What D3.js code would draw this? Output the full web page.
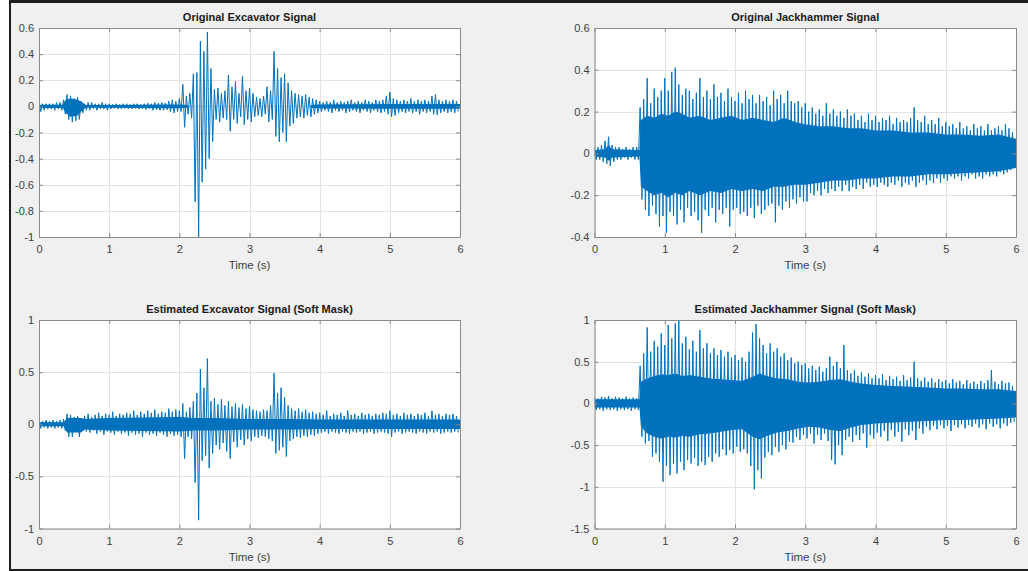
<!DOCTYPE html>
<html><head><meta charset="utf-8">
<script src="https://cdn.jsdelivr.net/npm/d3@7"></script>
<style>
body{margin:0;background:#fff;}
svg{display:block;}
text{font-family:"Liberation Sans",Arial,Helvetica,sans-serif;}
</style>
</head><body>
<svg id="chart" width="1028" height="571"></svg>
<script>
// ---------- DATA ----------
// waveform envelopes: one max and one min value per 0.05 s block
const blockStart = 0, blockStep = 0.05;

const excavatorOrigHi = [
 0.03,0.02,0.02,0.02,0.02,0.03,0.03,0.05,0.09,0.08,0.06,0.07,0.04,0.02,0.03,0.03,0.02,0.02,0.03,0.02,
 0.02,0.015,0.02,0.015,0.02,0.02,0.015,0.02,0.02,0.015,0.02,0.025,0.02,0.03,0.025,0.03,0.025,0.04,0.05,0.04,
 0.06,0.17,0.08,0.10,0.25,0.26,0.50,0.42,0.57,0.29,0.13,0.14,0.10,0.12,0.24,0.15,0.19,0.10,0.23,0.12,
 0.14,0.10,0.07,0.06,0.08,0.15,0.12,0.42,0.29,0.22,0.25,0.18,0.12,0.10,0.09,0.08,0.09,0.07,0.06,0.05,
 0.04,0.03,0.04,0.03,0.05,0.03,0.04,0.03,0.04,0.05,0.03,0.04,0.03,0.05,0.04,0.03,0.05,0.04,0.05,0.08,
 0.11,0.06,0.05,0.04,0.05,0.04,0.06,0.04,0.05,0.04,0.05,0.04,0.08,0.09,0.05,0.04,0.05,0.04,0.05,0.04];
const excavatorOrigLo = [
 -0.04,-0.03,-0.02,-0.02,-0.03,-0.02,-0.03,-0.06,-0.10,-0.12,-0.11,-0.10,-0.05,-0.03,-0.03,-0.02,-0.03,-0.02,-0.02,-0.03,
 -0.02,-0.015,-0.02,-0.02,-0.015,-0.02,-0.02,-0.015,-0.02,-0.02,-0.025,-0.02,-0.03,-0.025,-0.03,-0.03,-0.025,-0.04,-0.05,-0.04,
 -0.04,-0.16,-0.06,-0.09,-0.73,-1.00,-0.58,-0.48,-0.40,-0.27,-0.10,-0.12,-0.09,-0.10,-0.19,-0.10,-0.13,-0.08,-0.14,-0.10,
 -0.12,-0.08,-0.07,-0.08,-0.06,-0.12,-0.10,-0.23,-0.27,-0.20,-0.27,-0.15,-0.13,-0.09,-0.08,-0.09,-0.07,-0.08,-0.06,-0.05,
 -0.04,-0.03,-0.04,-0.05,-0.03,-0.04,-0.03,-0.05,-0.04,-0.03,-0.04,-0.05,-0.03,-0.04,-0.05,-0.03,-0.04,-0.05,-0.04,-0.06,
 -0.08,-0.07,-0.05,-0.04,-0.05,-0.04,-0.05,-0.04,-0.06,-0.04,-0.05,-0.04,-0.06,-0.065,-0.05,-0.04,-0.05,-0.04,-0.05,-0.04];

const jackhammerOrigHi = [
 0.03,0.03,0.04,0.06,0.08,0.04,0.03,0.03,0.02,0.03,0.02,0.03,0.03,0.22,0.26,0.36,0.24,0.31,0.27,0.30,
 0.36,0.30,0.39,0.41,0.33,0.28,0.31,0.30,0.26,0.29,0.36,0.27,0.30,0.26,0.33,0.27,0.29,0.25,0.31,0.27,
 0.25,0.29,0.24,0.30,0.26,0.28,0.24,0.28,0.25,0.27,0.23,0.30,0.26,0.28,0.24,0.30,0.25,0.24,0.25,0.22,
 0.24,0.20,0.22,0.19,0.21,0.18,0.24,0.19,0.21,0.18,0.20,0.17,0.21,0.18,0.19,0.16,0.18,0.15,0.19,0.16,
 0.18,0.15,0.17,0.16,0.18,0.14,0.17,0.15,0.16,0.15,0.17,0.22,0.16,0.15,0.18,0.14,0.16,0.14,0.17,0.13,
 0.15,0.13,0.14,0.12,0.15,0.12,0.13,0.11,0.14,0.12,0.13,0.11,0.14,0.11,0.12,0.13,0.11,0.14,0.12,0.10];
const jackhammerOrigLo = [
 -0.03,-0.03,-0.04,-0.05,-0.06,-0.04,-0.03,-0.03,-0.02,-0.03,-0.02,-0.03,-0.03,-0.22,-0.27,-0.30,-0.25,-0.29,-0.35,-0.30,
 -0.38,-0.28,-0.30,-0.34,-0.27,-0.33,-0.26,-0.30,-0.28,-0.32,-0.38,-0.27,-0.30,-0.26,-0.33,-0.27,-0.29,-0.26,-0.35,-0.27,
 -0.26,-0.29,-0.28,-0.30,-0.26,-0.31,-0.25,-0.29,-0.27,-0.25,-0.24,-0.33,-0.25,-0.27,-0.23,-0.26,-0.22,-0.24,-0.21,-0.23,
 -0.23,-0.19,-0.20,-0.18,-0.20,-0.17,-0.19,-0.17,-0.18,-0.16,-0.18,-0.15,-0.18,-0.16,-0.17,-0.15,-0.17,-0.14,-0.16,-0.15,
 -0.16,-0.14,-0.15,-0.16,-0.14,-0.15,-0.13,-0.16,-0.14,-0.15,-0.13,-0.16,-0.14,-0.13,-0.15,-0.13,-0.14,-0.12,-0.14,-0.12,
 -0.13,-0.11,-0.12,-0.11,-0.13,-0.11,-0.12,-0.10,-0.12,-0.11,-0.12,-0.10,-0.11,-0.10,-0.11,-0.09,-0.10,-0.09,-0.08,-0.07];

const excavatorEstHi = [
 0.04,0.03,0.04,0.03,0.04,0.03,0.04,0.05,0.10,0.09,0.07,0.08,0.06,0.08,0.10,0.07,0.09,0.11,0.08,0.10,
 0.09,0.12,0.08,0.10,0.09,0.11,0.10,0.13,0.09,0.12,0.10,0.13,0.11,0.14,0.10,0.12,0.11,0.15,0.12,0.14,
 0.13,0.20,0.12,0.16,0.22,0.30,0.53,0.35,0.63,0.22,0.25,0.19,0.24,0.18,0.22,0.17,0.20,0.16,0.19,0.15,
 0.17,0.14,0.13,0.12,0.14,0.13,0.18,0.49,0.30,0.35,0.26,0.18,0.15,0.13,0.15,0.12,0.14,0.11,0.12,0.10,
 0.11,0.09,0.13,0.08,0.10,0.09,0.11,0.08,0.13,0.09,0.10,0.08,0.11,0.09,0.10,0.08,0.10,0.09,0.11,0.10,
 0.13,0.09,0.10,0.08,0.11,0.09,0.10,0.08,0.10,0.09,0.11,0.08,0.13,0.09,0.10,0.08,0.10,0.09,0.10,0.08];
const excavatorEstLo = [
 -0.04,-0.03,-0.04,-0.03,-0.04,-0.03,-0.04,-0.06,-0.12,-0.12,-0.06,-0.12,-0.06,-0.07,-0.08,-0.06,-0.09,-0.07,-0.10,-0.07,
 -0.08,-0.10,-0.07,-0.09,-0.08,-0.11,-0.08,-0.10,-0.09,-0.12,-0.08,-0.10,-0.09,-0.11,-0.08,-0.10,-0.12,-0.09,-0.11,-0.10,
 -0.12,-0.33,-0.12,-0.14,-0.56,-0.92,-0.35,-0.30,-0.42,-0.28,-0.20,-0.24,-0.18,-0.26,-0.33,-0.17,-0.22,-0.15,-0.20,-0.14,
 -0.16,-0.12,-0.13,-0.11,-0.12,-0.14,-0.16,-0.28,-0.25,-0.22,-0.31,-0.16,-0.14,-0.12,-0.13,-0.11,-0.12,-0.10,-0.11,-0.09,
 -0.08,-0.07,-0.09,-0.07,-0.08,-0.09,-0.07,-0.08,-0.09,-0.07,-0.08,-0.07,-0.09,-0.08,-0.07,-0.09,-0.08,-0.07,-0.08,-0.09,
 -0.12,-0.08,-0.07,-0.09,-0.08,-0.07,-0.08,-0.09,-0.07,-0.08,-0.09,-0.07,-0.08,-0.07,-0.09,-0.08,-0.07,-0.08,-0.07,-0.08];

const jackhammerEstHi = [
 0.07,0.06,0.08,0.07,0.09,0.06,0.08,0.07,0.06,0.08,0.06,0.07,0.06,0.45,0.60,0.91,0.62,0.75,0.68,0.84,
 0.70,0.94,0.78,0.96,0.99,0.72,0.80,0.65,0.75,0.62,0.88,0.66,0.72,0.60,0.66,0.58,0.64,0.56,0.62,0.55,
 0.58,0.52,0.55,0.50,0.62,0.85,0.95,0.78,0.70,0.60,0.72,0.62,0.66,0.56,0.60,0.52,0.55,0.48,0.50,0.46,
 0.48,0.42,0.45,0.40,0.44,0.38,0.42,0.56,0.45,0.50,0.42,0.70,0.40,0.36,0.40,0.33,0.37,0.32,0.36,0.30,
 0.34,0.30,0.35,0.28,0.33,0.29,0.32,0.27,0.34,0.28,0.31,0.50,0.30,0.27,0.31,0.26,0.30,0.25,0.29,0.26,
 0.28,0.24,0.29,0.25,0.27,0.23,0.28,0.24,0.26,0.23,0.27,0.24,0.28,0.40,0.26,0.23,0.27,0.24,0.25,0.21];
const jackhammerEstLo = [
 -0.08,-0.07,-0.09,-0.07,-0.08,-0.07,-0.09,-0.07,-0.08,-0.07,-0.09,-0.07,-0.08,-0.40,-0.48,-0.45,-0.64,-0.60,-0.70,-0.94,
 -0.75,-0.86,-0.72,-0.84,-0.70,-0.80,-0.68,-0.72,-0.65,-0.75,-0.70,-0.74,-0.64,-0.70,-0.60,-0.64,-0.55,-0.62,-0.56,-0.60,
 -0.52,-0.58,-0.55,-0.60,-0.75,-1.03,-0.80,-0.90,-0.65,-0.58,-0.62,-0.52,-0.58,-0.50,-0.55,-0.46,-0.47,-0.40,-0.44,-0.38,
 -0.42,-0.36,-0.48,-0.38,-0.44,-0.36,-0.45,-0.68,-0.73,-0.50,-0.62,-0.44,-0.40,-0.46,-0.38,-0.44,-0.36,-0.53,-0.38,-0.42,
 -0.35,-0.40,-0.33,-0.45,-0.32,-0.40,-0.34,-0.46,-0.31,-0.38,-0.33,-0.44,-0.30,-0.36,-0.28,-0.32,-0.27,-0.31,-0.26,-0.30,
 -0.27,-0.33,-0.26,-0.29,-0.25,-0.30,-0.26,-0.28,-0.24,-0.29,-0.25,-0.31,-0.24,-0.28,-0.25,-0.30,-0.24,-0.27,-0.23,-0.22];

// dense solid core of each signal (where the trace fills solidly)
const excavatorOrigCoreT  = [0, 0.34, 0.38, 0.45, 0.55, 0.62, 0.66, 1.0, 1.5, 1.9, 2.1, 2.15, 3.85, 3.9, 4.0, 5.0, 6.0];
const excavatorOrigCoreHi = [0.012,0.012,0.05,0.06,0.05,0.03,0.01,0.01,0.012,0.015,0.012,0,0,0.012,0.015,0.018,0.018];
const excavatorOrigCoreLo = [-0.012,-0.012,-0.05,-0.08,-0.07,-0.03,-0.01,-0.01,-0.012,-0.015,-0.012,0,0,-0.012,-0.015,-0.018,-0.018];

const jackhammerOrigCoreT  = [0,0.15,0.2,0.25,0.64,0.66,0.75,0.85,0.95,1.05,1.15,1.25,1.35,1.5,1.65,1.8,1.95,2.1,2.25,2.4,2.55,2.7,2.85,3.0,3.2,3.4,3.6,3.8,4.0,4.25,4.5,4.75,5.0,5.25,5.5,5.75,6.0];
const jackhammerOrigCoreHi = [0.015,0.02,0.04,0.02,0.015,0.16,0.18,0.17,0.19,0.18,0.20,0.19,0.17,0.18,0.16,0.17,0.18,0.16,0.17,0.16,0.15,0.17,0.15,0.14,0.13,0.13,0.12,0.12,0.11,0.11,0.10,0.10,0.09,0.09,0.085,0.09,0.07];
const jackhammerOrigCoreLo = [-0.015,-0.02,-0.035,-0.02,-0.015,-0.16,-0.18,-0.20,-0.19,-0.21,-0.19,-0.20,-0.18,-0.20,-0.18,-0.19,-0.17,-0.18,-0.17,-0.18,-0.16,-0.16,-0.15,-0.15,-0.14,-0.13,-0.13,-0.12,-0.12,-0.11,-0.11,-0.10,-0.10,-0.095,-0.09,-0.085,-0.07];

const excavatorEstCoreT  = [0, 0.35, 0.4, 0.6, 0.65, 1.0, 2.0, 2.2, 2.5, 3.0, 3.6, 4.0, 6.0];
const excavatorEstCoreHi = [0.02,0.02,0.06,0.06,0.05,0.06,0.07,0.06,0.06,0.05,0.05,0.045,0.045];
const excavatorEstCoreLo = [-0.02,-0.02,-0.08,-0.08,-0.05,-0.06,-0.07,-0.06,-0.06,-0.05,-0.05,-0.045,-0.045];

const jackhammerEstCoreT  = [0,0.64,0.66,0.75,0.85,0.95,1.05,1.15,1.25,1.35,1.5,1.65,1.8,1.95,2.1,2.25,2.35,2.45,2.6,2.75,2.9,3.05,3.2,3.35,3.5,3.65,3.8,4.0,4.25,4.5,4.75,5.0,5.25,5.5,5.75,6.0];
const jackhammerEstCoreHi = [0.05,0.05,0.26,0.30,0.33,0.35,0.34,0.36,0.33,0.34,0.32,0.30,0.29,0.28,0.27,0.32,0.36,0.33,0.30,0.29,0.26,0.25,0.26,0.28,0.29,0.26,0.24,0.22,0.21,0.20,0.19,0.18,0.18,0.17,0.17,0.15];
const jackhammerEstCoreLo = [-0.05,-0.05,-0.28,-0.36,-0.40,-0.42,-0.40,-0.41,-0.39,-0.40,-0.37,-0.36,-0.34,-0.32,-0.31,-0.40,-0.43,-0.39,-0.35,-0.33,-0.30,-0.28,-0.29,-0.32,-0.33,-0.29,-0.26,-0.24,-0.23,-0.22,-0.21,-0.20,-0.20,-0.19,-0.18,-0.17];

// axes ticks
const timeTicks = [0, 1, 2, 3, 4, 5, 6];
const ticksOrigExc = [-1, -0.8, -0.6, -0.4, -0.2, 0, 0.2, 0.4, 0.6];
const ticksOrigJack = [-0.4, -0.2, 0, 0.2, 0.4, 0.6];
const ticksEstExc = [-1, -0.5, 0, 0.5, 1];
const ticksEstJack = [-1.5, -1, -0.5, 0, 0.5, 1];

const titles = ["Original Excavator Signal", "Original Jackhammer Signal",
                "Estimated Excavator Signal (Soft Mask)", "Estimated Jackhammer Signal (Soft Mask)"];
const xLabel = "Time (s)";

// ---------- LAYOUT ----------
const panels = [
  {title: titles[0], left: 39,    right: 460,  top: 28,  bottom: 237,   yDom: [-1, 0.6],   yTicks: ticksOrigExc,  hi: excavatorOrigHi,  lo: excavatorOrigLo,
   coreT: excavatorOrigCoreT, coreHi: excavatorOrigCoreHi, coreLo: excavatorOrigCoreLo},
  {title: titles[1], left: 594.5, right: 1016, top: 28,  bottom: 237,   yDom: [-0.4, 0.6], yTicks: ticksOrigJack, hi: jackhammerOrigHi, lo: jackhammerOrigLo,
   coreT: jackhammerOrigCoreT, coreHi: jackhammerOrigCoreHi, coreLo: jackhammerOrigCoreLo},
  {title: titles[2], left: 39,    right: 460,  top: 320, bottom: 528.5, yDom: [-1, 1],     yTicks: ticksEstExc,   hi: excavatorEstHi,   lo: excavatorEstLo,
   coreT: excavatorEstCoreT, coreHi: excavatorEstCoreHi, coreLo: excavatorEstCoreLo},
  {title: titles[3], left: 594.5, right: 1016, top: 320, bottom: 528.5, yDom: [-1.5, 1],   yTicks: ticksEstJack,  hi: jackhammerEstHi,  lo: jackhammerEstLo,
   coreT: jackhammerEstCoreT, coreHi: jackhammerEstCoreHi, coreLo: jackhammerEstCoreLo}
];

const lineColor = "#0072BD";
const axisColor = "#8a8a8a";
const gridColor = "#e2e2e2";
const textColor = "#404040";

const svg = d3.select("#chart");

// figure background with frame
svg.append("rect").attr("x",0).attr("y",0).attr("width",1028).attr("height",571).attr("fill","#ffffff");
svg.append("rect").attr("x",9).attr("y",0).attr("width",1019).attr("height",571).attr("fill","#f0f0f0");
svg.append("rect").attr("x",9).attr("y",0).attr("width",1019).attr("height",3).attr("fill","#1e1e1e");
svg.append("rect").attr("x",9).attr("y",0).attr("width",2).attr("height",571).attr("fill","#1e1e1e");
svg.append("rect").attr("x",9).attr("y",569).attr("width",1019).attr("height",2).attr("fill","#1e1e1e");

const fmt = d => String(d);

panels.forEach((p, i) => {
  const x = d3.scaleLinear().domain([0, 6]).range([p.left, p.right]);
  const y = d3.scaleLinear().domain(p.yDom).range([p.bottom, p.top]);
  const g = svg.append("g");

  g.append("rect").attr("x", p.left).attr("y", p.top)
    .attr("width", p.right - p.left).attr("height", p.bottom - p.top).attr("fill", "#fff");

  // grid
  g.selectAll(".gx").data(timeTicks).join("line")
    .attr("x1", d => Math.round(x(d)) + 0.5).attr("x2", d => Math.round(x(d)) + 0.5)
    .attr("y1", p.top).attr("y2", p.bottom).attr("stroke", gridColor).attr("stroke-width", 1);
  g.selectAll(".gy").data(p.yTicks).join("line")
    .attr("y1", d => Math.round(y(d)) + 0.5).attr("y2", d => Math.round(y(d)) + 0.5)
    .attr("x1", p.left).attr("x2", p.right).attr("stroke", gridColor).attr("stroke-width", 1);

  // clip
  const cid = "clip" + i;
  svg.append("clipPath").attr("id", cid).append("rect")
    .attr("x", p.left).attr("y", p.top).attr("width", p.right - p.left).attr("height", p.bottom - p.top);
  const dg = g.append("g").attr("clip-path", `url(#${cid})`);

  // solid core
  const core = p.coreT.map((t, k) => ({t, hi: p.coreHi[k], lo: p.coreLo[k]}));
  dg.append("path").datum(core)
    .attr("d", d3.area().x(d => x(d.t)).y0(d => y(d.lo)).y1(d => y(d.hi)))
    .attr("fill", lineColor);

  // waveform: max then min of every block
  const pts = [];
  p.hi.forEach((v, k) => {
    const t = blockStart + k * blockStep;
    pts.push([t, v]);
    pts.push([t + blockStep / 2, p.lo[k]]);
  });
  dg.append("path").datum(pts)
    .attr("d", d3.line().x(d => x(d[0])).y(d => y(d[1])))
    .attr("fill", "none").attr("stroke", lineColor).attr("stroke-width", 1);

  // axes
  const axB = g.append("g").attr("transform", `translate(0,${p.bottom})`)
    .call(d3.axisBottom(x).tickValues(timeTicks).tickFormat(fmt).tickSizeInner(-4).tickSizeOuter(0).tickPadding(8.5));
  const axT = g.append("g").attr("transform", `translate(0,${p.top})`)
    .call(d3.axisTop(x).tickValues(timeTicks).tickFormat("").tickSizeInner(-4).tickSizeOuter(0));
  const axL = g.append("g").attr("transform", `translate(${p.left},0)`)
    .call(d3.axisLeft(y).tickValues(p.yTicks).tickFormat(fmt).tickSizeInner(-4).tickSizeOuter(0).tickPadding(5));
  const axR = g.append("g").attr("transform", `translate(${p.right},0)`)
    .call(d3.axisRight(y).tickValues(p.yTicks).tickFormat("").tickSizeInner(-4).tickSizeOuter(0));
  [axB, axT, axL, axR].forEach(a => {
    a.select(".domain").attr("stroke", axisColor);
    a.selectAll(".tick line").attr("stroke", axisColor);
    a.selectAll("text").attr("fill", textColor).style("font-size", "11px")
      .style("font-family", "'Liberation Sans', Arial, sans-serif");
  });

  // title
  g.append("text").attr("x", (p.left + p.right) / 2).attr("y", p.top - 7)
    .attr("text-anchor", "middle").attr("fill", "#1a1a1a")
    .style("font-size", "11px").style("font-weight", "bold").text(p.title);

  // x label
  g.append("text").attr("x", (p.left + p.right) / 2).attr("y", p.bottom + 32)
    .attr("text-anchor", "middle").attr("fill", textColor)
    .style("font-size", "11.5px").text(xLabel);
});
</script>
</body></html>
